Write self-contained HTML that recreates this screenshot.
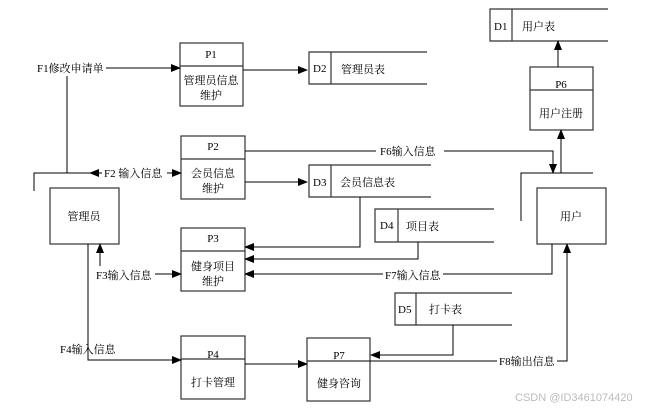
<!DOCTYPE html>
<html><head><meta charset="utf-8"><style>
html,body{margin:0;padding:0;background:#fff;}
svg text{font-family:"Liberation Serif","Noto Serif CJK SC","Noto Sans CJK SC",serif;font-size:11px;fill:#000;}
</style></head><body>
<svg width="658" height="411" viewBox="0 0 658 411" xmlns="http://www.w3.org/2000/svg">
<defs><marker id="a" markerWidth="10" markerHeight="8" refX="9" refY="4" orient="auto" markerUnits="userSpaceOnUse"><path d="M0,0 L10,4 L0,8 Z" fill="#000"/></marker></defs>
<g fill="none" stroke="#333" stroke-width="1.2">
<!-- processes -->
<rect x="180" y="43" width="63" height="63"/><line x1="180" y1="66" x2="243" y2="66"/>
<rect x="181" y="136" width="64" height="63"/><line x1="181" y1="159" x2="245" y2="159"/>
<rect x="181" y="228" width="64" height="63"/><line x1="181" y1="251" x2="245" y2="251"/>
<rect x="181" y="336" width="64" height="63"/><line x1="181" y1="359" x2="245" y2="359"/>
<rect x="307" y="338" width="63" height="63"/><line x1="307" y1="361" x2="370" y2="361"/>
<rect x="530" y="67" width="63" height="63"/><line x1="530" y1="90" x2="593" y2="90"/>
<!-- entities -->
<rect x="50" y="188" width="69" height="56"/>
<rect x="537" y="188" width="69" height="56"/>
<!-- stores -->
<path d="M427,52 H309 V84 H427 M331,52 V84"/>
<path d="M431,165 H309 V197 H431 M331,165 V197"/>
<path d="M494,209 H375 V242 H494 M398,209 V242"/>
<path d="M512,293 H395 V325 H512 M416,293 V325"/>
<path d="M608,9 H490 V41 H608 M512,9 V41"/>
</g>
<g fill="none" stroke="#000" stroke-width="1">
<line x1="106" y1="68" x2="180" y2="68" marker-end="url(#a)"/>
<line x1="67" y1="76" x2="67" y2="173"/>
<line x1="243" y1="70" x2="307" y2="70" marker-end="url(#a)"/>
<path d="M34,191 V173 H90"/>
<line x1="102" y1="173" x2="90" y2="173" marker-end="url(#a)"/>
<line x1="167" y1="173" x2="181" y2="173" marker-end="url(#a)"/>
<line x1="245" y1="182" x2="307" y2="182" marker-end="url(#a)"/>
<path d="M245,151 H376 M444,151 H553 V173" marker-end="url(#a)"/>
<path d="M360,197 V247 H245" marker-end="url(#a)"/>
<path d="M418,242 V259 H245" marker-end="url(#a)"/>
<path d="M552,244 V274 H443 M383,274 H245" marker-end="url(#a)"/>
<line x1="100" y1="266" x2="100" y2="244" marker-end="url(#a)"/>
<line x1="155" y1="274" x2="181" y2="274" marker-end="url(#a)"/>
<path d="M88,244 V360 H181" marker-end="url(#a)"/>
<line x1="245" y1="364" x2="307" y2="364" marker-end="url(#a)"/>
<path d="M453,325 V355 H371" marker-end="url(#a)"/>
<path d="M370,361 H497 M557,361 H567 V244" marker-end="url(#a)"/>
<path d="M521,221 V173 H593"/>
<line x1="561" y1="173" x2="561" y2="130" marker-end="url(#a)"/>
<line x1="558" y1="67" x2="558" y2="41" marker-end="url(#a)"/>
</g>
<g text-anchor="middle">
<text x="211" y="58">P1</text><text x="211" y="84">管理员信息</text><text x="211" y="99">维护</text>
<text x="213" y="150">P2</text><text x="213" y="177">会员信息</text><text x="213" y="192">维护</text>
<text x="213" y="242">P3</text><text x="213" y="270">健身项目</text><text x="213" y="285">维护</text>
<text x="213" y="358">P4</text><text x="213" y="386">打卡管理</text>
<text x="339" y="359">P7</text><text x="339" y="387">健身咨询</text>
<text x="561" y="88">P6</text><text x="561" y="117">用户注册</text>
<text x="84" y="220">管理员</text>
<text x="571" y="220">用户</text>
</g>
<g>
<text x="313" y="72">D2</text><text x="341" y="73">管理员表</text>
<text x="313" y="186">D3</text><text x="340" y="186">会员信息表</text>
<text x="380" y="229">D4</text><text x="406" y="230">项目表</text>
<text x="398" y="313">D5</text><text x="429" y="313">打卡表</text>
<text x="494" y="30">D1</text><text x="522" y="30">用户表</text>
<text x="37" y="72">F1修改申请单</text>
<text x="104" y="177">F2 输入信息</text>
<text x="96" y="279">F3输入信息</text>
<text x="60" y="353">F4输入信息</text>
<text x="380" y="155">F6输入信息</text>
<text x="385" y="279">F7输入信息</text>
<text x="499" y="365">F8输出信息</text>
</g>
<text x="515" y="401" style="font-family:'Liberation Sans',sans-serif;font-size:11px;fill:#bbb">CSDN @ID3461074420</text>
</svg>
</body></html>
